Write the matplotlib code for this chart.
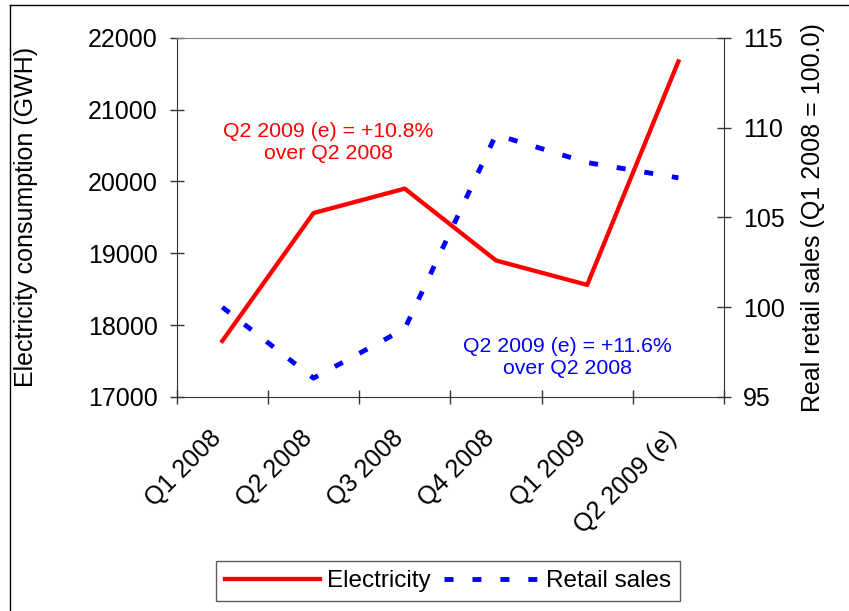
import matplotlib
matplotlib.use("Agg")
import matplotlib.pyplot as plt
from matplotlib.lines import Line2D
from matplotlib.transforms import ScaledTranslation

plt.rcParams['font.family'] = ['Liberation Sans', 'DejaVu Sans']

# Quarterly series
quarters = ["Q1 2008", "Q2 2008", "Q3 2008", "Q4 2008", "Q1 2009", "Q2 2009 (e)"]
electricity_gwh = [17780, 19560, 19900, 18900, 18560, 21670]
retail_index = [100.0, 96.05, 98.8, 109.6, 108.05, 107.2]

elec_ticks = [17000, 18000, 19000, 20000, 21000, 22000]
retail_ticks = [95, 100, 105, 110, 115]

W, H = 849, 611
fig = plt.figure(figsize=(W / 100, H / 100), dpi=100)

# plot area in pixels
L, R, T, B = 176.7, 724.0, 37.7, 397.0
ax = fig.add_axes([L / W, 1 - B / H, (R - L) / W, (B - T) / H])
ax2 = ax.twinx()

FS = 18

x = list(range(len(quarters)))
ax.plot(x, electricity_gwh, color='#ff0000', lw=3.1, label='Electricity')
ax2.plot(x, retail_index, color='#0000ff', lw=3.5, linestyle=(0, (1.85, 3.9)),
         label='Retail sales')

ax.set_xlim(-0.5, len(quarters) - 0.5)
ax.set_ylim(elec_ticks[0], elec_ticks[-1])
ax2.set_ylim(retail_ticks[0], retail_ticks[-1])
ax.set_yticks(elec_ticks)
ax2.set_yticks(retail_ticks)

axis_col = '#333333'
ax.set_xticks(x)
ax.set_xticks([i - 0.5 for i in range(len(quarters) + 1)], minor=True)
ax.tick_params(axis='x', which='major', length=0, pad=27)
ax.tick_params(axis='x', which='minor', direction='inout', length=9.4,
               width=1, color=axis_col)
ax.set_xticklabels(quarters, rotation=45, ha='right', va='center',
                   rotation_mode='anchor', fontsize=FS)
for lab in ax.get_xticklabels():
    lab.set_transform(lab.get_transform() +
                      ScaledTranslation(-5 / 100, 0, fig.dpi_scale_trans))

for a in (ax, ax2):
    a.tick_params(axis='y', direction='inout', length=9.4, width=1, pad=9.0,
                  labelsize=FS, color=axis_col)

ax.spines['right'].set_visible(False)
ax.spines['top'].set_color('#808080')
ax.spines['left'].set_color(axis_col)
ax.spines['bottom'].set_color(axis_col)
for s in ('top', 'bottom', 'left'):
    ax2.spines[s].set_visible(False)
ax2.spines['right'].set_color(axis_col)

ax.set_ylabel('Electricity consumption (GWH)', fontsize=FS)
ax.yaxis.set_label_coords(-0.2534, 0.5)
ax2.set_ylabel('Real retail sales (Q1 2008 = 100.0)', fontsize=FS)
ax2.yaxis.set_label_coords(1.1407, 0.5)

ax2.text(0.2765, 0.7097, 'Q2 2009 (e) = +10.8%\nover Q2 2008',
         transform=ax.transAxes, ha='center', va='center', color='#ff0000',
         fontsize=15.3, multialignment='center')
ax2.text(0.714, 0.110, 'Q2 2009 (e) = +11.6%\nover Q2 2008',
         transform=ax.transAxes, ha='center', va='center', color='#0000ff',
         fontsize=15.3, multialignment='center')

handles = [ax.get_lines()[0], ax2.get_lines()[0]]
leg = fig.legend(handles, [h.get_label() for h in handles], loc='center',
                 bbox_to_anchor=(448 / W, 1 - 581 / H), ncol=2, fontsize=17.5,
                 frameon=True, fancybox=False, edgecolor=axis_col,
                 handlelength=3.9, handletextpad=0.28, columnspacing=0.55,
                 borderpad=0.38)
leg.get_frame().set_linewidth(1.0)

# chart-area border
fig.add_artist(Line2D([10 / W, 10 / W], [0, 1 - 5 / H],
                      transform=fig.transFigure, color='black', lw=1))
fig.add_artist(Line2D([10 / W, 1], [1 - 5 / H, 1 - 5 / H],
                      transform=fig.transFigure, color='black', lw=1))

fig.savefig('out.png', dpi=100)
